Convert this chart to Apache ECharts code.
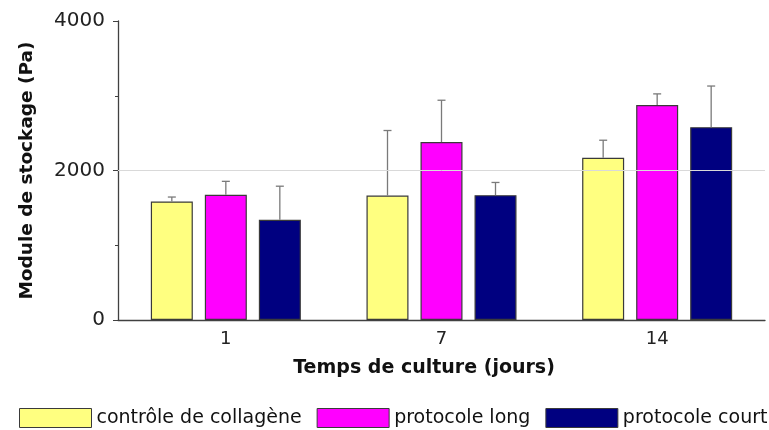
<!DOCTYPE html>
<html>
<head>
<meta charset="utf-8">
<script src="https://cdn.jsdelivr.net/npm/echarts@6/dist/echarts.min.js"></script>
<style>
  html, body { margin: 0; padding: 0; background: #fff; }
  #main { width: 769px; height: 430px; }
</style>
</head>
<body>
<div id="main"></div>
<script>
    var jours = ['1', '7', '14'];
    var noms = ['contrôle de collagène', 'protocole long', 'protocole court'];
    var controle = [1585, 1665, 2170];
    var protoLong = [1675, 2380, 2875];
    var protoCourt = [1340, 1670, 2580];
    // ecarts types (barre du haut seulement)
    var errControle = [60, 870, 235];
    var errLong = [180, 560, 150];
    var errCourt = [450, 170, 550];
    var couleurs = ['#ffff80', '#ff00ff', '#000080'];

    var barW = 42, ecart = 12;

    function errSeries(idx, vals, errs) {
        var data = [];
        for (var i = 0; i < vals.length; i++) {
            data.push([i, vals[i], vals[i] + errs[i]]);
        }
        return {
            type: 'custom',
            silent: true,
            z: 3,
            data: data,
            encode: { x: 0, y: [1, 2] },
            renderItem: function (params, api) {
                var x = api.coord([api.value(0), 0])[0] + (idx - 1) * (barW + ecart);
                var y0 = api.coord([api.value(0), api.value(1)])[1];
                var y1 = api.coord([api.value(0), api.value(2)])[1];
                var st = { stroke: '#7a7a7a', lineWidth: 1.3 };
                return {
                    type: 'group',
                    children: [
                        { type: 'line', shape: { x1: x, y1: y0, x2: x, y2: y1 }, style: st },
                        { type: 'line', shape: { x1: x - 4, y1: y1, x2: x + 4, y2: y1 }, style: st }
                    ]
                };
            }
        };
    }

    function barSeries(i, vals) {
        var s = {
            name: noms[i],
            type: 'bar',
            barWidth: barW,
            barGap: (ecart / barW * 100).toFixed(1) + '%',
            itemStyle: { color: couleurs[i], borderColor: '#3a3a3a', borderWidth: 1.2 },
            data: vals
        };
        if (i == 0) {
            s.markLine = {
                silent: true,
                symbol: 'none',
                label: { show: false },
                lineStyle: { color: '#d9d9d9', type: 'solid', width: 1 },
                data: [{ yAxis: 2000 }]
            };
        }
        return s;
    }

    var myChart = echarts.init(document.getElementById('main'));
    var option = {
        animation: false,
        textStyle: { fontFamily: 'DejaVu Sans, sans-serif' },
        grid: { left: 118, right: 4, top: 21, bottom: 110 },
        legend: {
            left: 19,
            top: 408,
            width: 760,
            padding: 0,
            icon: 'rect',
            itemWidth: 72,
            itemHeight: 19,
            itemGap: 15,
            textStyle: { fontSize: 19, color: '#111' },
            data: noms.map(function (n, i) {
                return { name: n, itemStyle: { color: couleurs[i], borderColor: '#3a3a3a', borderWidth: 1 } };
            })
        },
        xAxis: {
            type: 'category',
            data: jours,
            name: 'Temps de culture (jours)',
            nameLocation: 'middle',
            nameGap: 39,
            nameTextStyle: { fontSize: 19, fontWeight: 'bold', color: '#111', padding: [0, 35, 0, 0] },
            axisLine: { lineStyle: { color: '#404040', width: 1.3 } },
            axisTick: { show: false },
            axisLabel: { fontSize: 18, color: '#222', margin: 10 }
        },
        yAxis: {
            type: 'value',
            min: 0,
            max: 4000,
            interval: 2000,
            name: 'Module de stockage (Pa)',
            nameLocation: 'middle',
            nameGap: 81,
            nameTextStyle: { fontSize: 18.5, fontWeight: 'bold', color: '#111' },
            axisLine: { show: true, lineStyle: { color: '#404040', width: 1.3 } },
            axisTick: { show: true, length: 5, lineStyle: { color: '#404040' } },
            minorTick: { show: true, splitNumber: 2, length: 3, lineStyle: { color: '#404040' } },
            splitLine: { show: false },
            axisLabel: { fontSize: 20, color: '#222', margin: 13, formatter: function (v) { return String(v); } }
        },
        series: [
            barSeries(0, controle),
            barSeries(1, protoLong),
            barSeries(2, protoCourt),
            errSeries(0, controle, errControle),
            errSeries(1, protoLong, errLong),
            errSeries(2, protoCourt, errCourt)
        ]
    };
    myChart.setOption(option);
</script>
</body>
</html>
